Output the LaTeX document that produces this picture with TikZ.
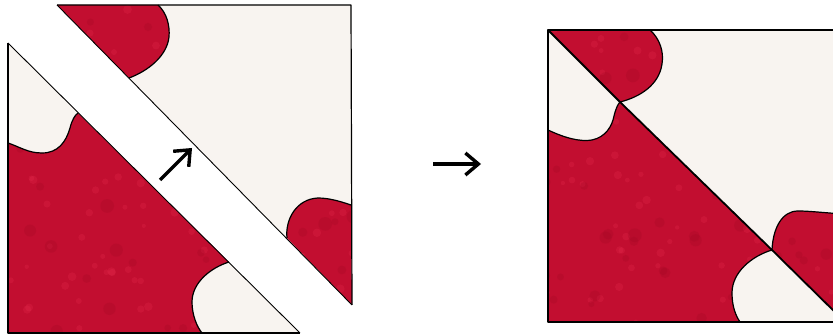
\documentclass[tikz,border=0pt]{standalone}
\usetikzlibrary{arrows.meta}
\definecolor{quiltred}{RGB}{194,14,48}
\definecolor{spotlight}{RGB}{236,50,84}
\definecolor{spotdark}{RGB}{160,8,36}
\definecolor{cream}{RGB}{248,244,240}
\begin{document}
\begin{tikzpicture}[x=1pt,y=-1pt,
  redpart/.style={fill=quiltred},
  creampart/.style={fill=cream},
  edge/.style={draw=black,line width=1.2pt,line join=round},
  seam/.style={draw=black,line width=0.9pt},
  bigarrow/.style={draw=black,line width=3.4pt,-{Straight Barb[length=13pt,width=22pt]}}]
\useasboundingbox (0,0) rectangle (833,336);
\clip (0,0) rectangle (833,336);

% ---------- named corner and junction points ----------
\coordinate (LA) at (8,43);
\coordinate (LB) at (8,333);
\coordinate (LC) at (300,333);
\coordinate (LJ1) at (78,113);
\coordinate (LJ2) at (229,262);
\coordinate (UA) at (57,5);
\coordinate (UB) at (351,5);
\coordinate (UC) at (352,305);
\coordinate (UJ1) at (129,78);
\coordinate (UJ2) at (287,238);
\coordinate (RA) at (548,30);
\coordinate (RB) at (548,322);
\coordinate (RC) at (845,322);
\coordinate (RD) at (845,30);
\coordinate (RJ1) at (620,102);
\coordinate (RJ2) at (772,250);

% ---------- cream backgrounds ----------
\fill[creampart] (LA) -- (LB) -- (LC) -- cycle;
\fill[creampart] (UA) -- (UB) -- (UC) -- cycle;
\fill[creampart] (RA) rectangle (RC);

% ---------- all red regions in one path ----------
\path[save path=\allred]
  % left lower piece
  (8,143) .. controls (20,147) and (28,153) .. (42,153)
  .. controls (58,153) and (66,142) .. (70,128)
  .. controls (72,120) and (75,115) .. (LJ1) -- (LJ2)
  .. controls (210,268) and (192,283) .. (192,302)
  .. controls (192,315) and (197,327) .. (202,333) -- (LB) -- cycle
  % left upper piece
  (UA) -- (158,5) .. controls (167,13) and (170,26) .. (169,37)
  .. controls (167,56) and (148,71) .. (UJ1) -- cycle
  (UJ2) .. controls (285,220) and (296,199) .. (318,198)
  .. controls (330,198) and (342,202) .. (351,205) -- (UC) -- cycle
  % right figure, lower piece
  (548,130) .. controls (565,138) and (580,142) .. (592,140)
  .. controls (606,137) and (612,126) .. (614,116)
  .. controls (616,108) and (618,104) .. (RJ1) -- (RJ2)
  .. controls (752,256) and (732,272) .. (732,293)
  .. controls (732,307) and (736,316) .. (740,322) -- (RB) -- cycle
  % right figure, upper piece
  (RA) -- (650,30) .. controls (660,39) and (664,52) .. (662,64)
  .. controls (659,85) and (640,97) .. (RJ1) -- cycle
  (RJ2) .. controls (773,228) and (782,211) .. (798,211)
  .. controls (811,211) and (825,213) .. (845,214) -- (845,322) -- cycle;
\fill[redpart,use path=\allred];
\begin{scope}
  \clip[use path=\allred];
  \pgfmathsetseed{11}
  \foreach \i in {1,...,260}{
    \fill[spotlight,opacity=0.22] ({416+416*rand},{168+168*rand}) circle ({2+2.5*rnd});
  }
  \foreach \i in {1,...,160}{
    \fill[spotdark,opacity=0.25] ({416+416*rand},{168+168*rand}) circle ({3+4*rnd});
  }
\end{scope}

% ---------- outlines, left figure ----------
\draw[edge] (8,143) .. controls (20,147) and (28,153) .. (42,153)
  .. controls (58,153) and (66,142) .. (70,128)
  .. controls (72,120) and (75,115) .. (LJ1);
\draw[edge] (LJ2) .. controls (210,268) and (192,283) .. (192,302)
  .. controls (192,315) and (197,327) .. (202,333);
\draw[edge] (LA) -- (LB) -- (LC);
\draw[seam] (LA) -- (LC);
\draw[edge] (158,5) .. controls (167,13) and (170,26) .. (169,37)
  .. controls (167,56) and (148,71) .. (UJ1);
\draw[edge] (UJ2) .. controls (285,220) and (296,199) .. (318,198)
  .. controls (330,198) and (342,202) .. (351,205);
\draw[edge] (UA) -- (UB) -- (UC);
\draw[seam] (UA) -- (UC);

% ---------- arrows ----------
\coordinate (g1) at (160,180);
\coordinate (g2) at (192,148);
\draw[bigarrow] (g1) -- (g2);
\coordinate (m1) at (433,164);
\coordinate (m2) at (481,164);
\draw[bigarrow] (m1) -- (m2);

% ---------- outlines, right figure ----------
\draw[edge] (548,130) .. controls (565,138) and (580,142) .. (592,140)
  .. controls (606,137) and (612,126) .. (614,116)
  .. controls (616,108) and (618,104) .. (RJ1);
\draw[edge] (RJ2) .. controls (752,256) and (732,272) .. (732,293)
  .. controls (732,307) and (736,316) .. (740,322);
\draw[edge] (650,30) .. controls (660,39) and (664,52) .. (662,64)
  .. controls (659,85) and (640,97) .. (RJ1);
\draw[edge] (RJ2) .. controls (773,228) and (782,211) .. (798,211)
  .. controls (811,211) and (825,213) .. (845,214);
\draw[edge] (RD) -- (RA) -- (RB) -- (RC);
\draw[edge,line width=1.8pt] (RA) -- (RJ1) -- (RJ2) -- (RC);
\end{tikzpicture}
\end{document}
